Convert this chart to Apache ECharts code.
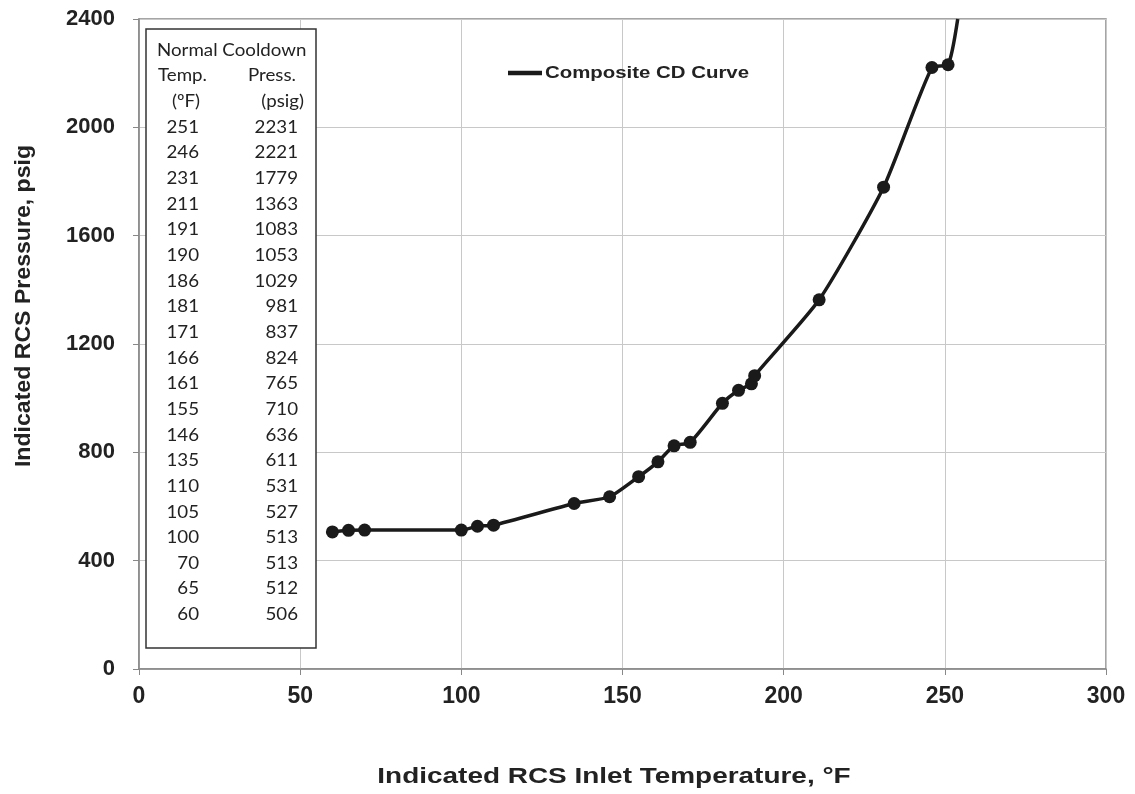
<!DOCTYPE html>
<html><head><meta charset="utf-8">
<script src="https://cdn.jsdelivr.net/npm/echarts@6/dist/echarts.min.js"></script>
<style>html,body{margin:0;padding:0;background:#fff}#c{width:1135px;height:794px}</style>
</head><body><div id="c"></div>
<script>
// Data (table order)
const temps = [251, 246, 231, 211, 191, 190, 186, 181, 171, 166, 161, 155, 146, 135, 110, 105, 100, 70, 65, 60];
const pressures = [2231, 2221, 1779, 1363, 1083, 1053, 1029, 981, 837, 824, 765, 710, 636, 611, 531, 527, 513, 513, 512, 506];
// curve continuation beyond the last point, until it leaves the plot top
const tailPoint = [254, 2400];
const xTicks = [0, 50, 100, 150, 200, 250, 300];
const yTicks = [0, 400, 800, 1200, 1600, 2000, 2400];
const seriesName = 'Composite CD Curve';
const xTitle = 'Indicated RCS Inlet Temperature, \u00b0F';
const yTitle = 'Indicated RCS Pressure, psig';
const tableHeader = [['Normal Cooldown'], ['Temp.', 'Press.'], ['(\u00baF)', '(psig)']];

const chart = echarts.init(document.getElementById('c'));
const pts = temps.map((t, i) => [t, pressures[i]]).sort((a, b) => a[0] - b[0]);
const lineData = pts.map(p => ({value: p})).concat([{value: tailPoint, symbol: 'none'}]);

// table graphic built from arrays
const tblX = 146, tblY = 29, rowH = 25.65, row0 = 50;
const Z = 20;
const font = '18px Lato, "Open Sans", sans-serif';
const txt = (x, yc, s, align) => ({
  type: 'text', x: x, y: yc, z: Z + 1, scaleX: 1.04,
  style: {text: s, font: font, fill: '#222', align: align || 'left', verticalAlign: 'middle'}
});
const graphics = [{
  type: 'rect', z: Z, shape: {x: tblX, y: tblY, width: 170, height: 619},
  style: {fill: '#fff', stroke: '#333', lineWidth: 1.5}
}];
graphics.push(txt(157, row0, tableHeader[0][0]));
graphics.push(txt(158, row0 + rowH, tableHeader[1][0]));
graphics.push(txt(296, row0 + rowH, tableHeader[1][1], 'right'));
graphics.push(txt(172, row0 + 2 * rowH, tableHeader[2][0]));
graphics.push(txt(304, row0 + 2 * rowH, tableHeader[2][1], 'right'));
temps.forEach((t, i) => {
  const yc = row0 + (i + 3) * rowH;
  graphics.push(txt(199, yc, String(t), 'right'));
  graphics.push(txt(298, yc, String(pressures[i]), 'right'));
});
// legend (line sample + label)
graphics.push({type: 'line', z: Z, shape: {x1: 508, y1: 73, x2: 542, y2: 73}, style: {stroke: '#1a1a1a', lineWidth: 4.5}});
graphics.push({type: 'text', z: Z, x: 545, y: 73, scaleX: 1.2,
  style: {text: seriesName, font: 'bold 17px "Liberation Sans", Arial', fill: '#222', verticalAlign: 'middle'}});
// axis titles
graphics.push({type: 'text', z: Z, x: 614, y: 777, scaleX: 1.27,
  style: {text: xTitle, font: 'bold 22px "Liberation Sans", Arial', fill: '#222', align: 'center', verticalAlign: 'middle'}});
graphics.push({type: 'text', z: Z, x: 24, y: 306, rotation: Math.PI / 2, scaleX: 1.05,
  style: {text: yTitle, font: 'bold 22px "Liberation Sans", Arial', fill: '#222', align: 'center', verticalAlign: 'middle'}});

const axisLabelStyle = {fontFamily: 'Liberation Sans, Arial', fontWeight: 'bold', color: '#222'};

chart.setOption({
  animation: false,
  backgroundColor: '#fff',
  grid: {left: 139, right: 29, top: 19, bottom: 125, show: true, borderColor: '#888', borderWidth: 1.5},
  xAxis: {
    type: 'value', min: 0, max: 300, interval: 50,
    axisLine: {show: true, onZero: false, lineStyle: {color: '#888', width: 1.5}},
    axisTick: {show: true, inside: false, length: 6, lineStyle: {color: '#888'}},
    axisLabel: Object.assign({margin: 16, fontSize: 23, formatter: v => xTicks.includes(v) ? String(v) : ''}, axisLabelStyle),
    splitLine: {show: true, lineStyle: {color: '#c8c8c8', width: 1}}
  },
  yAxis: {
    type: 'value', min: 0, max: 2400, interval: 400,
    axisLine: {show: true, lineStyle: {color: '#888', width: 1.5}},
    axisTick: {show: true, inside: false, length: 6, lineStyle: {color: '#888'}},
    axisLabel: Object.assign({margin: 24, fontSize: 22, formatter: v => yTicks.includes(v) ? String(v) : ''}, axisLabelStyle),
    splitLine: {show: true, lineStyle: {color: '#c8c8c8', width: 1}}
  },
  series: [{
    name: seriesName, type: 'line', data: lineData, smooth: 0.2,
    clip: true,
    symbol: 'circle', symbolSize: 13,
    lineStyle: {color: '#1a1a1a', width: 3.5},
    itemStyle: {color: '#1a1a1a'},
    z: 5
  }],
  graphic: graphics
});
</script></body></html>
